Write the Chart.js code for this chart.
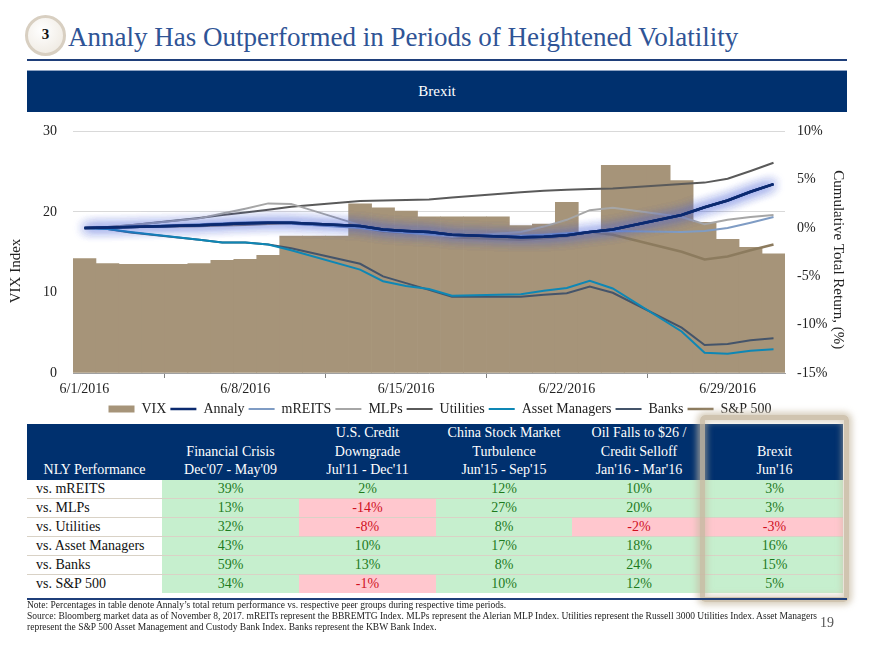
<!DOCTYPE html>
<html>
<head>
<meta charset="utf-8">
<script src="https://cdn.jsdelivr.net/npm/chart.js@4.4.0/dist/chart.umd.min.js"></script>
<style>
  body { margin: 0; width: 880px; height: 660px; background: #fff; position: relative; overflow: hidden;
         font-family: "Liberation Serif", "DejaVu Serif", serif; color: #111; }
  #badge { position: absolute; left: 25px; top: 15px; width: 35px; height: 35px; border: 3px solid #d8cfc1;
           border-radius: 50%; background: radial-gradient(circle at 40% 35%, #ffffff, #ece6dc);
           text-align: center; line-height: 33px; font-size: 15px; font-weight: bold; }
  #title { position: absolute; left: 68px; top: 24px; font-size: 27px; line-height: 27px; color: #2f5496; white-space: nowrap; }
  #rule { position: absolute; left: 27px; top: 59px; width: 820px; height: 2px; background: #1f3f7a; }
  #banner { position: absolute; left: 27px; top: 70px; width: 820px; height: 42px; background: #00306e;
            border-top: 1px solid #8ea3c3; box-sizing: border-box; color: #fff; text-align: center;
            font-size: 15px; line-height: 41px; }
  #chart { position: absolute; left: 0; top: 107px; width: 880px; height: 319px; }
  .cell { position: absolute; box-sizing: border-box; font-size: 14px; text-align: center; white-space: nowrap; }
  .hdr { background: #00306e; color: #fff; line-height: 18.7px; display: flex; flex-direction: column; justify-content: flex-end; }
  .pos { background: #c6efce; color: #1e7b1e; }
  .neg { background: #ffc7ce; color: #d0101e; }
  .lab { background: #fff; text-align: left; padding-left: 9px; }
  .sep { position: absolute; left: 27px; width: 816px; height: 2px; background: #d9d2c6; }
  #glowbox { position: absolute; left: 700px; top: 415px; width: 149px; height: 187px; box-sizing: border-box;
             border: 5px solid rgba(200,186,162,0.85); border-radius: 5px;
             box-shadow: 0 0 6px 3px rgba(200,186,162,0.7), inset 0 0 6px 2px rgba(200,186,162,0.6); }
  #botrule { position: absolute; left: 27px; top: 598px; width: 820px; height: 2px; background: #1f3f7a; }
  #notes { position: absolute; left: 27px; top: 600px; font-size: 9.5px; line-height: 11px; color: #222; white-space: nowrap; }
  #page { position: absolute; left: 820px; top: 615px; font-size: 14px; color: #555; }
</style>
</head>
<body>
<div id="badge">3</div>
<div id="title">Annaly Has Outperformed in Periods of Heightened Volatility</div>
<div id="rule"></div>
<div id="banner">Brexit</div>
<canvas id="chart" width="880" height="319"></canvas>
<div id="table"></div>
<div id="glowbox"></div>
<div id="botrule"></div>
<div id="notes">Note: Percentages in table denote Annaly’s total return performance vs. respective peer groups during respective time periods.<br>Source: Bloomberg market data as of November 8, 2017. mREITs represent the BBREMTG Index. MLPs represent the Alerian MLP Index. Utilities represent the Russell 3000 Utilities Index. Asset Managers<br>represent the S&amp;P 500 Asset Management and Custody Bank Index. Banks represent the KBW Bank Index.</div>
<div id="page">19</div>

<script>
const days = [
  "6/1/2016", "6/2/2016", "6/3/2016", "6/4/2016", "6/5/2016", "6/6/2016", "6/7/2016", "6/8/2016",
  "6/9/2016", "6/10/2016", "6/11/2016", "6/12/2016", "6/13/2016", "6/14/2016", "6/15/2016", "6/16/2016",
  "6/17/2016", "6/18/2016", "6/19/2016", "6/20/2016", "6/21/2016", "6/22/2016", "6/23/2016", "6/24/2016",
  "6/25/2016", "6/26/2016", "6/27/2016", "6/28/2016", "6/29/2016", "6/30/2016", "7/1/2016"
];

// VIX index level (weekends carry Friday's close)
const vix = [14.2, 13.6, 13.5, 13.5, 13.5, 13.6, 14.0, 14.1, 14.6, 17.0, 17.0, 17.0, 21.0, 20.5, 20.1, 19.4,
  19.4, 19.4, 19.4, 18.3, 18.5, 21.2, 17.3, 25.8, 25.8, 25.8, 23.9, 18.7, 16.6, 15.6, 14.8];

// cumulative total return, %  (null = no trading)
const n = null;
const annaly = [0, 0.05, 0.1, n, n, 0.3, 0.4, 0.5, 0.55, 0.55, n, n, 0.2, -0.15, -0.3, -0.4, -0.7, n, n,
  -0.95, -0.9, -0.75, -0.4, -0.15, n, n, 1.35, 2.15, 2.85, 3.75, 4.55];
const mreits = [0, 0.05, 0.15, n, n, 0.4, 0.5, 0.6, 0.55, 0.45, n, n, 0.0, -0.3, -0.5, -0.65, -0.75, n, n,
  -0.8, -0.7, -0.55, -0.4, -0.3, n, n, -0.4, -0.3, 0.0, 0.55, 1.15];
const mlps = [0, 0.05, 0.3, n, n, 1.0, 1.5, 2.0, 2.55, 2.5, n, n, 0.3, -0.2, -0.45, -0.7, -0.9, n, n,
  -0.4, 0.15, 0.85, 1.85, 2.1, n, n, 1.15, 0.4, 0.85, 1.15, 1.35];
const utilities = [0, 0.1, 0.3, n, n, 1.05, 1.35, 1.6, 1.9, 2.2, n, n, 2.8, 2.85, 2.9, 2.95, 3.15, n, n,
  3.7, 3.85, 3.95, 4.05, 4.1, n, n, 4.55, 4.7, 5.1, 5.9, 6.75];
const assetMgrs = [0, -0.1, -0.4, n, n, -1.2, -1.5, -1.5, -1.7, -2.3, n, n, -4.3, -5.5, -6.0, -6.3, -7.0, n, n,
  -6.85, -6.5, -6.2, -5.45, -6.25, n, n, -10.7, -12.9, -13.0, -12.7, -12.55];
const banks = [0, -0.1, -0.45, n, n, -1.2, -1.5, -1.5, -1.7, -2.1, n, n, -3.7, -5.0, -5.7, -6.4, -7.1, n, n,
  -7.1, -6.9, -6.75, -6.05, -6.7, n, n, -10.3, -12.1, -12.0, -11.6, -11.4];
const sp500 = [0, 0.05, 0.1, n, n, 0.2, 0.3, 0.35, 0.45, 0.5, n, n, 0.1, -0.35, -0.5, -0.6, -0.95, n, n,
  -1.2, -1.05, -0.85, -0.4, -0.7, n, n, -2.45, -3.25, -2.95, -2.3, -1.7];

const vixTicks = [0, 10, 20, 30];
const retTicks = [-15, -10, -5, 0, 5, 10];

// table
const periods = [
  ["", "Financial Crisis", "Dec'07 - May'09"],
  ["U.S. Credit", "Downgrade", "Jul'11 - Dec'11"],
  ["China Stock Market", "Turbulence", "Jun'15 - Sep'15"],
  ["Oil Falls to $26 /", "Credit Selloff", "Jan'16 - Mar'16"],
  ["", "Brexit", "Jun'16"]
];
const peers = ["vs. mREITS", "vs. MLPs", "vs. Utilities", "vs. Asset Managers", "vs. Banks", "vs. S&P 500"];
const financialCrisis = [39, 13, 32, 43, 59, 34];
const creditDowngrade = [2, -14, -8, 10, 13, -1];
const chinaTurbulence = [12, 27, 8, 17, 8, 10];
const oilSelloff = [10, 20, -2, 18, 24, 12];
const brexitVs = [3, 3, -3, 16, 15, 5];

// ---- table build ----
const tbl = document.getElementById("table");
const colX = [27, 162, 299, 436, 572, 706, 843];
const hdrTop = 424, hdrH = 56, rowH = 18.9;
const colData = [financialCrisis, creditDowngrade, chinaTurbulence, oilSelloff, brexitVs];

function addCell(cls, x0, x1, y, h, html) {
  const d = document.createElement("div");
  d.className = "cell " + cls;
  d.style.left = x0 + "px";
  d.style.width = (x1 - x0) + "px";
  d.style.top = y + "px";
  d.style.height = h + "px";
  d.innerHTML = html;
  tbl.appendChild(d);
  return d;
}

addCell("hdr", colX[0], colX[1], hdrTop, hdrH, "<div>NLY Performance</div>");
for (let c = 0; c < periods.length; c++) {
  addCell("hdr", colX[c + 1], colX[c + 2], hdrTop, hdrH,
    periods[c].map(t => "<div>" + (t || "&nbsp;") + "</div>").join(""));
}
for (let r = 0; r < peers.length; r++) {
  const y = hdrTop + hdrH + r * rowH;
  addCell("lab", colX[0], colX[1], y, rowH, peers[r]).style.lineHeight = rowH + "px";
  for (let c = 0; c < colData.length; c++) {
    const v = colData[c][r];
    addCell(v < 0 ? "neg" : "pos", colX[c + 1], colX[c + 2], y, rowH, v + "%").style.lineHeight = rowH + "px";
  }
  if (r < peers.length - 1) {
    const s = document.createElement("div");
    s.className = "sep";
    s.style.top = (y + rowH - 1) + "px";
    tbl.appendChild(s);
  }
}

// ---- chart ----
const serif = "'Liberation Serif', 'DejaVu Serif', serif";

function lineSet(label, data, color, width) {
  return {
    type: "line",
    label: label,
    data: data,
    yAxisID: "yRet",
    borderColor: color,
    backgroundColor: color,
    borderWidth: width,
    pointRadius: 0,
    pointStyle: "line",
    tension: 0,
    spanGaps: true,
    order: 0
  };
}

// soft blue halo behind the Annaly line
const glow = {
  id: "glow",
  beforeDatasetDraw(chart, args) {
    if (args.index !== 1) return;
    const ctx = chart.ctx;
    ctx.save();
    ctx.shadowColor = "rgba(70,95,215,0.95)";
    ctx.shadowBlur = 12;
    args.meta.dataset.draw(ctx, chart.chartArea);
    args.meta.dataset.draw(ctx, chart.chartArea);
  },
  afterDatasetDraw(chart, args) {
    if (args.index === 1) chart.ctx.restore();
  }
};

const ctx = document.getElementById("chart");
new Chart(ctx, {
  data: {
    labels: days,
    datasets: [
      {
        type: "bar",
        label: "VIX",
        data: vix,
        yAxisID: "yVix",
        backgroundColor: "#a69479",
        borderWidth: 0,
        barPercentage: 1,
        categoryPercentage: 1,
        pointStyle: "rect",
        order: 10
      },
      lineSet("Annaly", annaly, "#0b2a6f", 2.5),
      lineSet("mREITS", mreits, "#7f9cc4", 2),
      lineSet("MLPs", mlps, "#a6a6a6", 2),
      lineSet("Utilities", utilities, "#5a5a5a", 2),
      lineSet("Asset Managers", assetMgrs, "#0e87b5", 2),
      lineSet("Banks", banks, "#44546a", 2),
      lineSet("S&P 500", sp500, "#8c7b5e", 2.5)
    ]
  },
  options: {
    responsive: false,
    animation: false,
    layout: { padding: { top: 0, left: 0, right: 0, bottom: 0 } },
    plugins: {
      tooltip: { enabled: false },
      legend: {
        position: "bottom",
        labels: {
          usePointStyle: true,
          pointStyleWidth: 26,
          boxHeight: 7,
          padding: 4,
          color: "#222",
          font: { family: serif, size: 14 },
          sort: (a, b) => a.datasetIndex - b.datasetIndex
        }
      }
    },
    scales: {
      x: {
        type: "category",
        offset: true,
        afterFit: (s) => { s.height = 25; },
        grid: { offset: true, drawOnChartArea: false, drawTicks: true, tickLength: 5, color: "#808080" },
        border: { display: true, color: "#a0a0a0" },
        ticks: {
          autoSkip: false,
          maxRotation: 0,
          padding: 3,
          color: "#222",
          font: { family: serif, size: 14 },
          callback: (v, i) => (i % 7 === 0 ? days[i] : null)
        }
      },
      yVix: {
        position: "left",
        min: 0,
        max: 30,
        afterFit: (s) => { s.width = 73; },
        afterBuildTicks: (s) => { s.ticks = vixTicks.map(v => ({ value: v })); },
        grid: { color: "#d9d9d9", drawTicks: false },
        border: { display: false },
        ticks: { padding: 16, color: "#222", font: { family: serif, size: 14 } },
        // trailing spaces nudge the rotated title down, as in the original
        title: { display: true, text: "VIX Index          ", color: "#222", font: { family: serif, size: 15 }, padding: { top: 7 } }
      },
      yRet: {
        position: "right",
        min: -15,
        max: 10,
        afterFit: (s) => { s.width = 95; },
        afterBuildTicks: (s) => { s.ticks = retTicks.map(v => ({ value: v })); },
        grid: { display: false, drawTicks: false },
        border: { display: false },
        ticks: { padding: 12, color: "#222", font: { family: serif, size: 14 }, callback: (v) => v + "%" },
        title: { display: true, text: "    Cumulative Total Return, (%)", color: "#222", font: { family: serif, size: 15 }, padding: { top: 33 } }
      }
    }
  },
  plugins: [glow]
});
</script>
</body>
</html>
